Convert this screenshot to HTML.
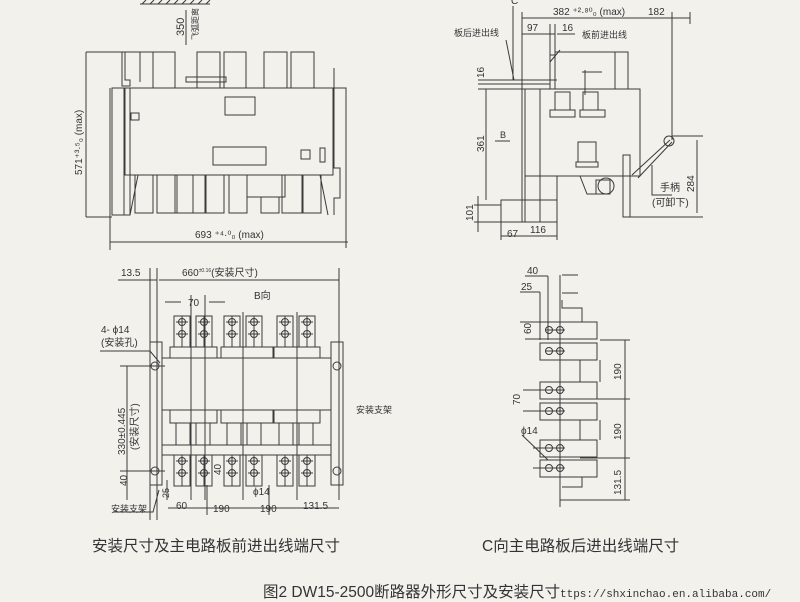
<!DOCTYPE html>
<html><head><meta charset="utf-8"><style>
html,body{margin:0;padding:0;background:#f3f1ec;}
svg{display:block;}
text{font-family:"Liberation Sans","Noto Sans CJK SC",sans-serif;fill:#333;}
</style></head><body>
<svg width="800" height="602" viewBox="0 0 800 602" xmlns="http://www.w3.org/2000/svg">
<rect width="800" height="602" fill="#f3f1ec"/>
<g stroke="#3a3a3a" stroke-width="1" fill="none">
<line x1="140" y1="4" x2="210" y2="4"/>
<path d="M142 4l4-4M150 4l4-4M158 4l4-4M166 4l4-4M174 4l4-4M182 4l4-4M190 4l4-4M198 4l4-4M206 4l4-4"/>
<line x1="186" y1="10" x2="186" y2="45"/>
<rect x="125" y="88" width="208" height="87"/>
<rect x="124" y="88" width="6" height="127"/>
<rect x="112" y="88" width="12" height="127"/>
<line x1="110" y1="88" x2="110" y2="250"/>
<path d="M122 52v34h8v-6h-5V52M140 52v30"/>
<rect x="153" y="52" width="22" height="36"/><rect x="197" y="52" width="23" height="36"/><rect x="224" y="52" width="22" height="36"/><rect x="264" y="52" width="23" height="36"/><rect x="291" y="52" width="23" height="36"/>
<rect x="186" y="77" width="40" height="5"/>
<rect x="225" y="97" width="30" height="18"/><rect x="213" y="147" width="53" height="18"/>
<rect x="131" y="113" width="8" height="7"/><rect x="301" y="150" width="9" height="9"/><rect x="320" y="148" width="5" height="14"/>
<path d="M333 88h13v160M334 68v100h6v30h-6v17"/>
<rect x="135" y="175" width="18" height="38"/><rect x="157" y="175" width="20" height="38"/><rect x="175" y="175" width="18" height="38"/><rect x="193" y="175" width="12" height="38"/><rect x="206" y="175" width="18" height="38"/><rect x="229" y="175" width="18" height="38"/><rect x="247" y="175" width="38" height="22"/><rect x="261" y="197" width="18" height="16"/><rect x="282" y="175" width="20" height="38"/><rect x="303" y="175" width="18" height="38"/>
<path d="M138 175l-8 40M320 175l8 40"/>
<line x1="86" y1="52" x2="153" y2="52"/><line x1="86" y1="217" x2="112" y2="217"/>
<line x1="86" y1="52" x2="86" y2="217"/>
<line x1="110" y1="242" x2="348" y2="242"/>
<line x1="513" y1="6" x2="513" y2="80"/>
<line x1="522" y1="18" x2="672" y2="18"/><line x1="672" y1="18" x2="690" y2="18"/>
<line x1="522" y1="12" x2="522" y2="222"/><line x1="672" y1="12" x2="672" y2="140"/>
<line x1="690" y1="12" x2="690" y2="24"/>
<line x1="522" y1="34" x2="555" y2="34"/><line x1="557" y1="34" x2="575" y2="34"/>
<path d="M550 24v65M555 24v65M550 55h5"/>
<line x1="478" y1="80" x2="557" y2="80"/><line x1="478" y1="84" x2="550" y2="84"/>
<path d="M506 40l8 40M560 50l-10 12"/>
<rect x="525" y="89" width="115" height="87"/>
<rect x="525" y="89" width="15" height="133"/>
<path d="M555 52h60v37M585 70v25M582 72h20"/>
<rect x="615" y="52" width="13" height="37"/>
<rect x="555" y="92" width="15" height="18"/><rect x="583" y="92" width="15" height="18"/>
<rect x="550" y="110" width="25" height="7"/><rect x="580" y="110" width="25" height="7"/>
<rect x="578" y="142" width="18" height="20"/><rect x="576" y="162" width="22" height="5"/>
<path d="M580 176l7 18h10M557 176v46"/>
<circle cx="606" cy="186" r="8"/><rect x="596" y="180" width="14" height="14"/>
<rect x="623" y="155" width="7" height="62"/><line x1="630" y1="217" x2="703" y2="217"/>
<path d="M632 175l38-35M638 178l34-36"/>
<circle cx="669" cy="141" r="5"/>
<line x1="672" y1="136" x2="703" y2="136"/>
<line x1="697" y1="140" x2="697" y2="213"/>
<path d="M652 165v30h20"/>
<rect x="501" y="200" width="56" height="22"/>
<line x1="486" y1="89" x2="486" y2="200"/><line x1="478" y1="89" x2="525" y2="89"/>
<line x1="474" y1="205" x2="501" y2="205"/><line x1="474" y1="222" x2="525" y2="222"/>
<line x1="478" y1="196" x2="478" y2="232"/>
<line x1="501" y1="222" x2="501" y2="240"/><line x1="557" y1="222" x2="557" y2="240"/>
<line x1="501" y1="236" x2="557" y2="236"/>
<line x1="495" y1="141" x2="510" y2="141"/>
<line x1="150" y1="268" x2="150" y2="520"/><line x1="157" y1="268" x2="157" y2="520"/>
<line x1="339" y1="268" x2="339" y2="500"/>
<line x1="118" y1="280" x2="157" y2="280"/><line x1="159" y1="280" x2="339" y2="280"/>
<line x1="165" y1="302" x2="181" y2="302"/><line x1="209" y1="302" x2="225" y2="302"/>
<line x1="191" y1="295" x2="191" y2="500"/><line x1="205" y1="295" x2="205" y2="500"/>
<line x1="243" y1="312" x2="243" y2="500"/><line x1="297" y1="312" x2="297" y2="500"/>
<rect x="150" y="342" width="12" height="143"/><rect x="331" y="342" width="12" height="143"/>
<rect x="162" y="358" width="169" height="87"/>
<line x1="162" y1="410" x2="331" y2="410"/>
<rect x="170" y="347" width="47" height="11"/><rect x="221" y="347" width="52" height="11"/><rect x="274" y="347" width="46" height="11"/>
<rect x="170" y="410" width="47" height="13"/><rect x="221" y="410" width="52" height="13"/><rect x="274" y="410" width="46" height="13"/>
<rect x="176" y="423" width="14" height="22"/><rect x="196" y="423" width="14" height="22"/><rect x="227" y="423" width="14" height="22"/><rect x="247" y="423" width="14" height="22"/><rect x="279" y="423" width="14" height="22"/><rect x="299" y="423" width="14" height="22"/>
<rect x="162" y="445" width="169" height="10"/>
<g id="bt"><rect x="174" y="316" width="16" height="31"/><circle cx="182" cy="322" r="3.5"/><circle cx="182" cy="334" r="3.5"/><path d="M176 322h12M176 334h12M182 316v31"/></g>
<use href="#bt" x="22"/><use href="#bt" x="50"/><use href="#bt" x="72"/><use href="#bt" x="103"/><use href="#bt" x="125"/>
<use href="#bt" y="139"/><use href="#bt" x="22" y="139"/><use href="#bt" x="50" y="139"/><use href="#bt" x="72" y="139"/><use href="#bt" x="103" y="139"/><use href="#bt" x="125" y="139"/>
<circle cx="155" cy="366" r="4"/><circle cx="155" cy="471" r="4"/><circle cx="337" cy="366" r="4"/><circle cx="337" cy="471" r="4"/>
<line x1="120" y1="366" x2="165" y2="366"/><line x1="120" y1="471" x2="165" y2="471"/>
<line x1="127" y1="366" x2="127" y2="500"/>
<path d="M100 351h50l10 12"/>
<line x1="168" y1="508" x2="339" y2="508"/>
<line x1="207" y1="485" x2="207" y2="515"/><line x1="269" y1="485" x2="269" y2="515"/>
<line x1="167" y1="480" x2="167" y2="500"/>
<path d="M113 512h40l6-22"/>
<line x1="525" y1="276" x2="548" y2="276"/><line x1="520" y1="292" x2="540" y2="292"/>
<line x1="548" y1="276" x2="548" y2="340"/><line x1="540" y1="292" x2="540" y2="340"/>
<line x1="560" y1="275" x2="560" y2="507"/><line x1="562" y1="275" x2="578" y2="275"/>
<line x1="562" y1="293" x2="578" y2="293"/>
<path d="M562 300v8h20v14M562 487h20v-10"/>
<g id="bb"><rect x="540" y="322" width="57" height="17"/><circle cx="549" cy="330" r="3.5"/><circle cx="560" cy="330" r="3.5"/><path d="M545 330h20"/></g>
<use href="#bb" y="21"/><use href="#bb" y="60"/><use href="#bb" y="81"/><use href="#bb" y="118"/><use href="#bb" y="138"/>
<path d="M580 360v22M600 360v22M580 420v20M600 420v20"/>
<line x1="520" y1="322" x2="540" y2="322"/><line x1="525" y1="339" x2="540" y2="339"/>
<line x1="523" y1="390" x2="560" y2="390"/><line x1="523" y1="411" x2="560" y2="411"/>
<line x1="533" y1="448" x2="560" y2="448"/><line x1="533" y1="468" x2="560" y2="468"/>
<line x1="600" y1="340" x2="630" y2="340"/><line x1="580" y1="399" x2="630" y2="399"/>
<line x1="580" y1="458" x2="630" y2="458"/><line x1="560" y1="500" x2="630" y2="500"/>
<line x1="625" y1="340" x2="625" y2="500"/>
<line x1="522" y1="435" x2="548" y2="460"/>
</g>
<g font-size="11">
<text transform="translate(184,36) rotate(-90)">350</text>
<text transform="translate(198,40) rotate(-90)" font-size="8">飞弧距离</text>
<text transform="translate(82,175) rotate(-90)" font-size="10">571⁺³·⁵₀ (max)</text>
<text x="195" y="238" font-size="10">693 ⁺⁴·⁰₀ (max)</text>
<text x="511" y="4" font-size="10">C</text>
<text x="553" y="15" font-size="10">382 ⁺²·⁸⁰₀ (max)</text>
<text x="648" y="15" font-size="10">182</text>
<text x="454" y="36" font-size="9">板后进出线</text>
<text x="527" y="31" font-size="10">97</text><text x="562" y="31" font-size="10">16</text>
<text x="582" y="38" font-size="9">板前进出线</text>
<text transform="translate(484,78) rotate(-90)" font-size="10">16</text>
<text transform="translate(484,152) rotate(-90)" font-size="10">361</text>
<text x="500" y="138" font-size="9">B</text>
<text transform="translate(473,221) rotate(-90)" font-size="10">101</text>
<text x="507" y="237" font-size="10">67</text><text x="530" y="233" font-size="10">116</text>
<text transform="translate(694,192) rotate(-90)" font-size="10">284</text>
<text x="660" y="191" font-size="10">手柄</text>
<text x="652" y="206" font-size="10">(可卸下)</text>
<text x="121" y="276" font-size="10">13.5</text>
<text x="182" y="276" font-size="10">660<tspan font-size="5" dy="-4">±0.16</tspan><tspan dy="4">(安装尺寸)</tspan></text>
<text x="254" y="299" font-size="10">B向</text>
<text x="188" y="306" font-size="10">70</text>
<text x="101" y="333" font-size="10">4- ϕ14</text>
<text x="101" y="346" font-size="10">(安装孔)</text>
<text transform="translate(125,455) rotate(-90)" font-size="10">330±0.445</text>
<text transform="translate(138,450) rotate(-90)" font-size="10">(安装尺寸)</text>
<text x="356" y="413" font-size="9">安装支架</text>
<text transform="translate(127,486) rotate(-90)" font-size="10">40</text>
<text transform="translate(169,498) rotate(-90)" font-size="9">25</text>
<text transform="translate(221,475) rotate(-90)" font-size="10">40</text>
<text x="253" y="495" font-size="10">ϕ14</text>
<text x="176" y="509" font-size="10">60</text>
<text x="213" y="512" font-size="10">190</text><text x="260" y="512" font-size="10">190</text><text x="303" y="509" font-size="10">131.5</text>
<text x="111" y="512" font-size="9">安装支架</text>
<text x="527" y="274" font-size="10">40</text><text x="521" y="290" font-size="10">25</text>
<text transform="translate(531,334) rotate(-90)" font-size="10">60</text>
<text transform="translate(520,405) rotate(-90)" font-size="10">70</text>
<text x="521" y="434" font-size="10">ϕ14</text>
<text transform="translate(621,380) rotate(-90)" font-size="10">190</text>
<text transform="translate(621,440) rotate(-90)" font-size="10">190</text>
<text transform="translate(621,495) rotate(-90)" font-size="10">131.5</text>
<text x="92" y="551" font-size="15.5">安装尺寸及主电路板前进出线端尺寸</text>
<text x="482" y="551" font-size="15.5">C向主电路板后进出线端尺寸</text>
<text x="263" y="597" font-size="15.5">图2 DW15-2500断路器外形尺寸及安装尺寸</text>
<text x="560" y="597" font-size="11" style="font-family:'Liberation Mono',monospace">ttps://shxinchao.en.alibaba.com/</text>
</g>
</svg>
</body></html>
